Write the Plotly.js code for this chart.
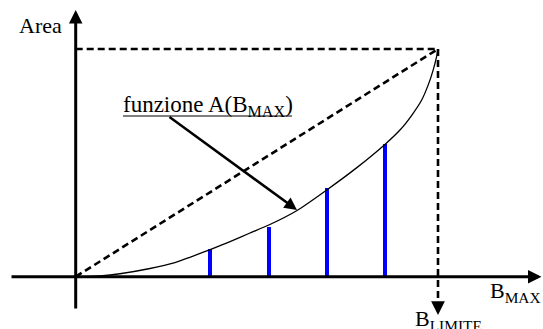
<!DOCTYPE html>
<html>
<head>
<meta charset="utf-8">
<script src="https://cdn.plot.ly/plotly-3.0.1.min.js"></script>
<style>html,body{margin:0;padding:0;background:#fff;}#chart{width:543px;height:329px;}</style>
</head>
<body>
<div id="chart"></div>
<script>
// Curve A(B_MAX), normalized: B / B_LIMITE and A / A(B_LIMITE)
var curveB = [0, 0.067, 0.122, 0.205, 0.274, 0.315, 0.371, 0.426, 0.481, 0.533, 0.611, 0.693, 0.776, 0.855, 0.895, 0.928, 0.955, 0.972, 0.986, 0.996, 1];
var curveA = [0, 0.004, 0.013, 0.036, 0.062, 0.085, 0.119, 0.154, 0.192, 0.227, 0.291, 0.381, 0.479, 0.583, 0.644, 0.710, 0.776, 0.838, 0.904, 0.965, 1];
// Blue sample bars
var barB = [0.371, 0.533, 0.693, 0.855];
var barA = [0.122, 0.220, 0.388, 0.583];
// Labels
var labelArea = "Area";
var labelFunc = "funzione A(B<sub>MAX</sub>)";
var labelBmax = "B<sub>MAX</sub>";
var labelBlim = "B<sub>LIMITE</sub>";

// pixel helpers for layout decorations (origin 75.7,276.7 ; corner 438,49)
var OX = 75.7, OY = 276.7, SX = 362.3, SY = 227.7;
function X(p){ return (p - OX) / SX; }
function Y(p){ return (OY - p) / SY; }

var FAMILY = "Liberation Serif";
function font(sz){ return {family: FAMILY, size: sz, color: "#000000"}; }

var traces = [
  {type: "bar", x: barB, y: barA, width: 0.011, marker: {color: "#0000ff", line: {width: 0}}, hoverinfo: "skip"},
  {type: "scatter", mode: "lines", x: curveB, y: curveA, line: {color: "#000", width: 1.3, shape: "spline", smoothing: 0.6}, hoverinfo: "skip"}
];

var dash = {color: "#000", width: 2.6, dash: "7px,4px"};
var shapes = [
  {type: "line", xref: "x", yref: "y", x0: 0, y0: 1, x1: 1, y1: 1, line: dash},
  {type: "line", xref: "x", yref: "y", x0: 1, y0: 1, x1: 1, y1: Y(303), line: dash},
  {type: "line", xref: "x", yref: "y", x0: 0, y0: 0, x1: 1, y1: 1, line: dash},
  // underline of the label
  {type: "line", xref: "x", yref: "y", x0: X(123), y0: Y(116), x1: X(292), y1: Y(116), line: {color: "#000", width: 1.2}}
];

function arrow(tx, ty, sx, sy, w, size){
  return {xref: "x", yref: "y", axref: "x", ayref: "y", x: X(tx), y: Y(ty), ax: X(sx), ay: Y(sy),
    text: "", showarrow: true, arrowhead: 2, arrowwidth: w, arrowsize: size, arrowcolor: "#000", standoff: 0};
}

var annotations = [
  arrow(75.7, 10, 75.7, 310, 3, 0.9),
  arrow(541.5, 276.7, 10, 276.7, 3, 0.9),
  arrow(297, 210, 168, 116, 2.5, 1.0),
  arrow(438, 315, 438, 303, 2.5, 1.1),
  {xref: "x", yref: "y", x: X(17), y: Y(25), xanchor: "left", yanchor: "middle", text: labelArea, showarrow: false, font: font(22)},
  {xref: "x", yref: "y", x: X(121), y: Y(106), xanchor: "left", yanchor: "middle", text: labelFunc, showarrow: false, font: font(23)},
  {xref: "x", yref: "y", x: X(488), y: Y(292), xanchor: "left", yanchor: "middle", text: labelBmax, showarrow: false, font: font(22)},
  {xref: "x", yref: "y", x: X(413), y: Y(320), xanchor: "left", yanchor: "middle", text: labelBlim, showarrow: false, font: font(22)}
];

var layout = {
  width: 543, height: 329, autosize: false,
  margin: {l: 0, r: 0, t: 0, b: 0, pad: 0},
  paper_bgcolor: "#fff", plot_bgcolor: "#fff",
  font: {family: FAMILY, size: 22, color: "#000000"},
  showlegend: false, bargap: 0,
  xaxis: {range: [X(0), X(543)], visible: false, fixedrange: true},
  yaxis: {range: [Y(329), Y(0)], visible: false, fixedrange: true},
  shapes: shapes,
  annotations: annotations
};

Plotly.newPlot("chart", traces, layout, {staticPlot: true, displayModeBar: false});
</script>
</body>
</html>
